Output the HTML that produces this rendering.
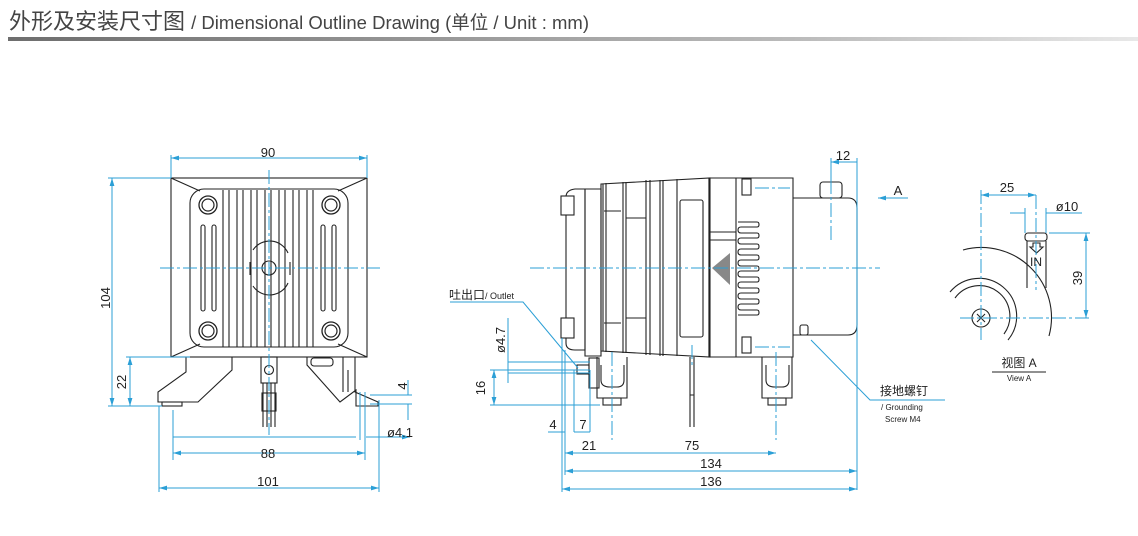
<!DOCTYPE html>
<html><head><meta charset="utf-8"><style>
html,body{margin:0;padding:0;background:#fff;}
body{width:1138px;height:536px;overflow:hidden;position:relative;font-family:"Liberation Sans","Noto Sans CJK SC",sans-serif;}
.t{position:absolute;left:9px;top:4px;font-size:22px;color:#444;white-space:nowrap;}
.t span{font-size:18.5px;}
.bar{position:absolute;left:8px;top:37px;width:1130px;height:4px;background:linear-gradient(90deg,#6e6e6e,#bbb 70%,#e8e8e8);}
svg{position:absolute;left:0;top:0;}
</style></head><body>
<div class="t">外形及安装尺寸图 <span>/ Dimensional Outline Drawing (单位 / Unit : mm)</span></div>
<div class="bar"></div>
<svg width="1138" height="536" viewBox="0 0 1138 536" font-family="Liberation Sans, Noto Sans CJK SC, sans-serif">
<defs>
<marker id="a" viewBox="0 0 10 6" refX="10" refY="3" markerWidth="8" markerHeight="5" orient="auto-start-reverse"><path d="M0,0L10,3L0,6z" fill="#2b9fd6"/></marker>
</defs>
<!-- ===== FRONT VIEW ===== -->
<g stroke="#222" fill="none" stroke-width="1.1">
<rect x="171" y="178" width="196" height="179"/>
<rect x="190" y="189" width="158" height="158" rx="14"/>
<path d="M171 178L200 191M367 178L338 191M171 357L200 344M367 357L338 344"/>
<path d="M223 190V347M229 190V347M237 190V347M243 190V347M251 190V347M257 190V347M265 190V347M271 190V347M279 190V347M285 190V347M293 190V347M299 190V347M307 190V347M313 190V347"/>
<rect x="201" y="225" width="4" height="86" rx="2"/><rect x="212" y="225" width="4" height="86" rx="2"/>
<rect x="321" y="225" width="4" height="86" rx="2"/><rect x="332" y="225" width="4" height="86" rx="2"/>
<g fill="#fff" stroke-width="1.3"><circle cx="208" cy="205" r="9"/><circle cx="331" cy="205" r="9"/><circle cx="208" cy="331" r="9"/><circle cx="331" cy="331" r="9"/></g>
<g stroke-width="1.2"><circle cx="208" cy="205" r="6"/><circle cx="331" cy="205" r="6"/><circle cx="208" cy="331" r="6"/><circle cx="331" cy="331" r="6"/></g>
<path d="M253 250A20 20 0 0 1 288 253M253 286A20 20 0 0 0 288 283M250 262V275M290 262V275" />
<circle cx="269" cy="268" r="7"/>
<path d="M186 357H232V370L198 402H158V392L186 372Z"/>
<rect x="162" y="402" width="20" height="4"/>
<path d="M307 357H355V392L378 402V406H356V390L340 402L307 365Z"/>
<path d="M343 357V392M348 370V392"/>
<rect x="311" y="358" width="22" height="8" rx="3"/>
<rect x="261" y="357" width="16" height="26"/><circle cx="269" cy="370" r="4.5"/>
<path d="M263 383V427M267 383V427M271 383V427M275 383V427"/>
<rect x="262" y="393" width="14" height="18"/>
</g>
<g stroke="#2b9fd6" fill="none" stroke-width="1">
<path d="M269 170V435M160 268H380" stroke-dasharray="14 3 3 3"/>
<path d="M171 158H367" marker-start="url(#a)" marker-end="url(#a)"/>
<path d="M171 155V178M367 155V178M108 178H171M108 406H162M126 357H190"/>
<path d="M112 178V406" marker-start="url(#a)" marker-end="url(#a)"/>
<path d="M130 357V406" marker-start="url(#a)" marker-end="url(#a)"/>
<path d="M173 437H356M366 437H410" marker-end="url(#a)"/>
<path d="M173 453H365" marker-start="url(#a)" marker-end="url(#a)"/>
<path d="M159 488H379" marker-start="url(#a)" marker-end="url(#a)"/>
<path d="M173 410V460M365 392V460M360 392V440M159 406V492M379 400V492M370 395H412M370 404H412M408 380V395M408 404V420"/>
</g>
<g fill="#222" font-size="13" text-anchor="middle">
<text x="268" y="157">90</text><text x="268" y="458">88</text><text x="268" y="486">101</text>
<text transform="translate(110,298) rotate(-90)">104</text>
<text transform="translate(126,382) rotate(-90)">22</text>
<text transform="translate(407,386) rotate(-90)">4</text>
<text x="400" y="437">ø4.1</text>
</g>
<!-- ===== SIDE VIEW ===== -->
<g stroke="#222" fill="none" stroke-width="1.1">
<path d="M566 197Q566 190 575 189H585V350H575Q566 350 566 343Z"/>
<rect x="561" y="196" width="13" height="19" fill="#fff"/><rect x="561" y="318" width="13" height="20" fill="#fff"/>
<path d="M585 189H601V356H585Z"/>
<path d="M601 184L710 178V357L601 351Z"/>
<path d="M603 184V351M606 183V352M623 182V353M626 182V353M646 180V355M650 180V355M660 180V356M663 180V356M677 179V356M709 178V357"/>
<path d="M604 211H621M604 323H621M626 218H646M626 318H646"/>
<rect x="680" y="200" width="23" height="137" rx="2"/>
<path d="M709 178H793V357H709Z"/>
<path d="M736 178V357M710 232H736M710 240H736"/>
<path d="M738 222H757Q759 222 759 224.5Q759 227 757 227H741Q738 227 738 230Q738 233 741 233H757Q759 233 759 235.5Q759 238 757 238H741Q738 238 738 241Q738 244 741 244H757Q759 244 759 246.5Q759 249 757 249H741Q738 249 738 252Q738 255 741 255H757Q759 255 759 257.5Q759 260 757 260H741Q738 260 738 263Q738 266 741 266H757Q759 266 759 268.5Q759 271 757 271H741Q738 271 738 274Q738 277 741 277H757Q759 277 759 279.5Q759 282 757 282H741Q738 282 738 285Q738 288 741 288H757Q759 288 759 290.5Q759 293 757 293H741Q738 293 738 296Q738 299 741 299H757Q759 299 759 301.5Q759 304 757 304H741Q738 304 738 307Q738 310 741 310H757Q759 310 759 312.5Q759 315 757 315H738"/>
<path d="M712 268L730 253V285Z" fill="#888" stroke="none"/>
<rect x="742" y="179" width="9" height="16" fill="#fff"/><rect x="742" y="337" width="9" height="16" fill="#fff"/>
<path d="M793 198H848Q857 198 857 208V325Q857 335 848 335H793"/>
<rect x="820" y="182" width="22" height="16" rx="3"/>
<rect x="800" y="325" width="8" height="10" rx="2"/>
<path d="M597 357V398H627V357M762 357V398H792V357"/>
<rect x="603" y="398" width="18" height="7"/><rect x="768" y="398" width="18" height="7"/>
<path d="M601 365V380Q601 387 610 387H617Q624 387 624 380V365M766 365V380Q766 387 775 387H782Q789 387 789 380V365"/>
<path d="M690 357V427M694 357V427M690 395H694"/>
<rect x="589" y="358" width="10" height="30"/><rect x="577" y="365" width="12" height="9"/>
</g>
<g stroke="#2b9fd6" fill="none" stroke-width="1">
<path d="M530 268H880M612 352V440M776 352V440M831 180V240M692 345V365M755 188H790M755 347H790" stroke-dasharray="14 3 3 3"/>
<path d="M831 162H857" marker-start="url(#a)"/><path d="M831 158V180M857 158V490"/>
<path d="M908 198H878" marker-end="url(#a)"/>
<path d="M565 471H857" marker-start="url(#a)" marker-end="url(#a)"/>
<path d="M562 489H857" marker-start="url(#a)" marker-end="url(#a)"/>
<path d="M565 453H612M612 453H776" marker-start="url(#a)" marker-end="url(#a)"/>
<path d="M562 338V492M565 350V475M574 370V432M590 370V432"/>
<path d="M548 432H565M574 432H590"/>
<path d="M490 370H590M490 405H600M508 362H590M508 373H590"/>
<path d="M494 370V405" marker-start="url(#a)" marker-end="url(#a)"/>
<path d="M508 318V383"/>
<path d="M450 302H523L578 368"/>
<path d="M945 400H870L811 340"/>
</g>
<g fill="#222" font-size="13" text-anchor="middle">
<text x="843" y="160">12</text><text x="898" y="195">A</text>
<text x="711" y="468">134</text><text x="711" y="486">136</text>
<text x="692" y="450">75</text><text x="589" y="450">21</text>
<text x="553" y="429">4</text><text x="583" y="429">7</text>
<text transform="translate(485,388) rotate(-90)">16</text>
<text transform="translate(505,340) rotate(-90)">ø4.7</text>
</g>
<text x="449" y="299" font-size="12" fill="#222">吐出口<tspan font-size="9">/ Outlet</tspan></text>
<text x="880" y="395" font-size="12" fill="#222">接地螺钉</text>
<text x="881" y="410" font-size="8" fill="#222">/ Grounding</text>
<text x="885" y="422" font-size="8" fill="#222">Screw M4</text>
<!-- ===== VIEW A ===== -->
<g stroke="#222" fill="none" stroke-width="1.1">
<path d="M963 250A70 70 0 0 1 1049 336"/>
<path d="M950 292A36 36 0 0 1 1008 340M955 298A30 30 0 0 1 1004 334"/>
<circle cx="981" cy="318" r="9"/>
<path d="M977 314L985 322M985 314L977 322"/>
<path d="M1027 288V241M1046 288V241"/><rect x="1025" y="233" width="22" height="8" rx="3"/>
<path d="M1033 243H1040V247H1043L1036.5 253L1030 247H1033Z"/>
<path d="M992 372H1046"/>
</g>
<g stroke="#2b9fd6" fill="none" stroke-width="1">
<path d="M981 190V340M960 318H1090M1036 195V290" stroke-dasharray="14 3 3 3"/>
<path d="M981 195H1036" marker-start="url(#a)" marker-end="url(#a)"/>
<path d="M1010 213H1025M1046 213H1082M1025 208V233M1046 208V233"/>
<path d="M1086 233V318" marker-start="url(#a)" marker-end="url(#a)"/>
<path d="M1049 233H1090"/>
</g>
<g fill="#222" text-anchor="middle">
<text x="1007" y="192" font-size="13">25</text>
<text x="1067" y="211" font-size="13">ø10</text>
<text x="1036" y="266" font-size="12">IN</text>
<text transform="translate(1082,278) rotate(-90)" font-size="13">39</text>
<text x="1019" y="367" font-size="12">视图 A</text>
<text x="1019" y="381" font-size="8">View A</text>
</g>
</svg>
</body></html>
